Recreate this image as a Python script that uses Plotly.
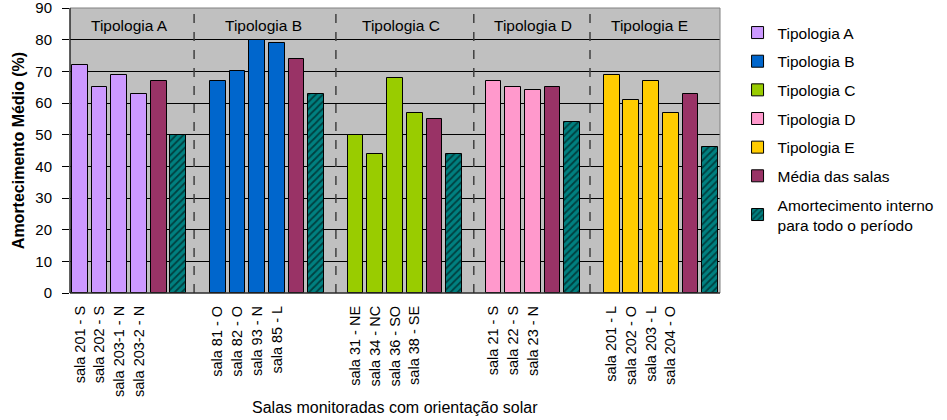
import plotly.graph_objects as go

# ---- data ----
tipologias = ["Tipologia A", "Tipologia B", "Tipologia C", "Tipologia D", "Tipologia E"]
salas_A = ["sala 201 - S", "sala 202 - S", "sala 203-1 - N", "sala 203-2 - N"]
salas_B = ["sala 81 - O", "sala 82 - O", "sala 93 - N", "sala 85 - L"]
salas_C = ["sala 31 - NE", "sala 34 - NC", "sala 36 - SO", "sala 38 - SE"]
salas_D = ["sala 21 - S", "sala 22 - S", "sala 23 - N"]
salas_E = ["sala 201 - L", "sala 202 - O", "sala 203 - L", "sala 204 - O"]
valores_A = [72, 65, 69, 63]
valores_B = [67, 70, 80, 79]
valores_C = [50, 44, 68, 57]
valores_D = [67, 65, 64]
valores_E = [69, 61, 67, 57]
media_salas = [67, 74, 55, 65, 63]
amortecimento_interno = [50, 63, 44, 54, 46]

cores = ["#CC99FF", "#0066CC", "#99CC00", "#FF99CC", "#FFCC00"]
cor_media = "#993366"
cor_amort = "#008080"

salas = [salas_A, salas_B, salas_C, salas_D, salas_E]
valores = [valores_A, valores_B, valores_C, valores_D, valores_E]

font_family = "Arial, Liberation Sans, sans-serif"

# ---- positions (slot indices) ----
pos = 0
room_pos, media_pos, amort_pos, gap_pos, group_center = [], [], [], [], []
for g in range(len(tipologias)):
    start = pos
    rp = []
    for _ in salas[g]:
        rp.append(pos)
        pos += 1
    room_pos.append(rp)
    media_pos.append(pos); pos += 1
    amort_pos.append(pos); pos += 1
    group_center.append((start + pos - 1) / 2)
    if g < len(tipologias) - 1:
        gap_pos.append(pos)
        pos += 1
n_slots = pos

fig = go.Figure()
for g, name in enumerate(tipologias):
    fig.add_trace(go.Bar(
        x=room_pos[g], y=valores[g], name=name, width=0.8,
        marker=dict(color=cores[g], line=dict(color="black", width=1)),
        legendgroup=name,
    ))
fig.add_trace(go.Bar(
    x=media_pos, y=media_salas, name="Média das salas", width=0.8,
    marker=dict(color=cor_media, line=dict(color="black", width=1)),
    legendgroup="media",
))
fig.add_trace(go.Bar(
    x=amort_pos, y=amortecimento_interno,
    name="Amortecimento interno<br>para todo o período", width=0.8,
    marker=dict(color=cor_amort, line=dict(color="black", width=1),
                pattern=dict(shape="/", fgcolor="black", bgcolor=cor_amort,
                             size=5, solidity=0.35)),
    legendgroup="amort",
))

# dashed separators
sep_offsets = [-0.2, 0, 0, -0.1]
for i, gp in enumerate(gap_pos):
    fig.add_shape(type="line", x0=gp + sep_offsets[i], x1=gp + sep_offsets[i], y0=0, y1=1,
                  xref="x", yref="paper",
                  line=dict(color="#404040", width=1.5, dash="dash"), layer="above")

# group labels
label_offsets = [0, -0.2, -0.2, 0, -0.6]
for g, name in enumerate(tipologias):
    fig.add_annotation(x=group_center[g] + label_offsets[g], y=84.5, xref="x", yref="y",
                       text=name, showarrow=False,
                       font=dict(family=font_family, size=15.5, color="black"))

# border
fig.add_shape(type="rect", x0=0, x1=1, y0=0, y1=1, xref="paper", yref="paper",
              line=dict(color="#808080", width=1), layer="above")
fig.add_shape(type="line", x0=0, x1=0, y0=0, y1=1, xref="paper", yref="paper",
              line=dict(color="black", width=1), layer="above")
fig.add_shape(type="line", x0=0, x1=1, y0=0, y1=0, xref="paper", yref="paper",
              line=dict(color="black", width=1), layer="above")

tickvals = [p for rp in room_pos for p in rp]
ticktext = [s for grp in salas for s in grp]

fig.add_annotation(x=(395 - 70) / 650, y=-(407 - 293) / 285, xref="paper", yref="paper",
                   xanchor="center", yanchor="middle",
                   text="Salas monitoradas com orientação solar", showarrow=False,
                   font=dict(family=font_family, size=16, color="black"))

fig.update_layout(
    width=947, height=420,
    margin=dict(l=70, r=227, t=8, b=127, autoexpand=False),
    paper_bgcolor="white", plot_bgcolor="#C0C0C0",
    barmode="overlay", bargap=0,
    font=dict(family=font_family, size=14, color="black"),
    showlegend=True,
    legend=dict(x=1.027, y=0.972, xanchor="left", yanchor="top",
                font=dict(family=font_family, size=15.5, color="black"),
                tracegroupgap=5.5, bgcolor="rgba(0,0,0,0)", itemwidth=30),
    xaxis=dict(range=[-0.5, n_slots - 0.5], tickmode="array", tickvals=tickvals,
               ticktext=ticktext, tickangle=-90, showgrid=False, zeroline=False,
               showline=False, ticks="", automargin=False, ticklabelstandoff=9,
               tickfont=dict(family=font_family, size=14.5)),
    yaxis=dict(range=[0, 90], dtick=10, showgrid=True, gridcolor="black", gridwidth=1,
               zeroline=False, showline=False, automargin=False,
               ticks="outside", ticklen=7, tickcolor="black", ticklabelstandoff=7,
               ticklabeloverflow="allow",
               tickfont=dict(family=font_family, size=15),
               title=dict(text="<b>Amortecimento Médio (%)</b>", standoff=6,
                          font=dict(family=font_family, size=16))),
)

fig.write_html("out.html", config={"displayModeBar": False},
               post_script="document.body.style.margin='0';")
